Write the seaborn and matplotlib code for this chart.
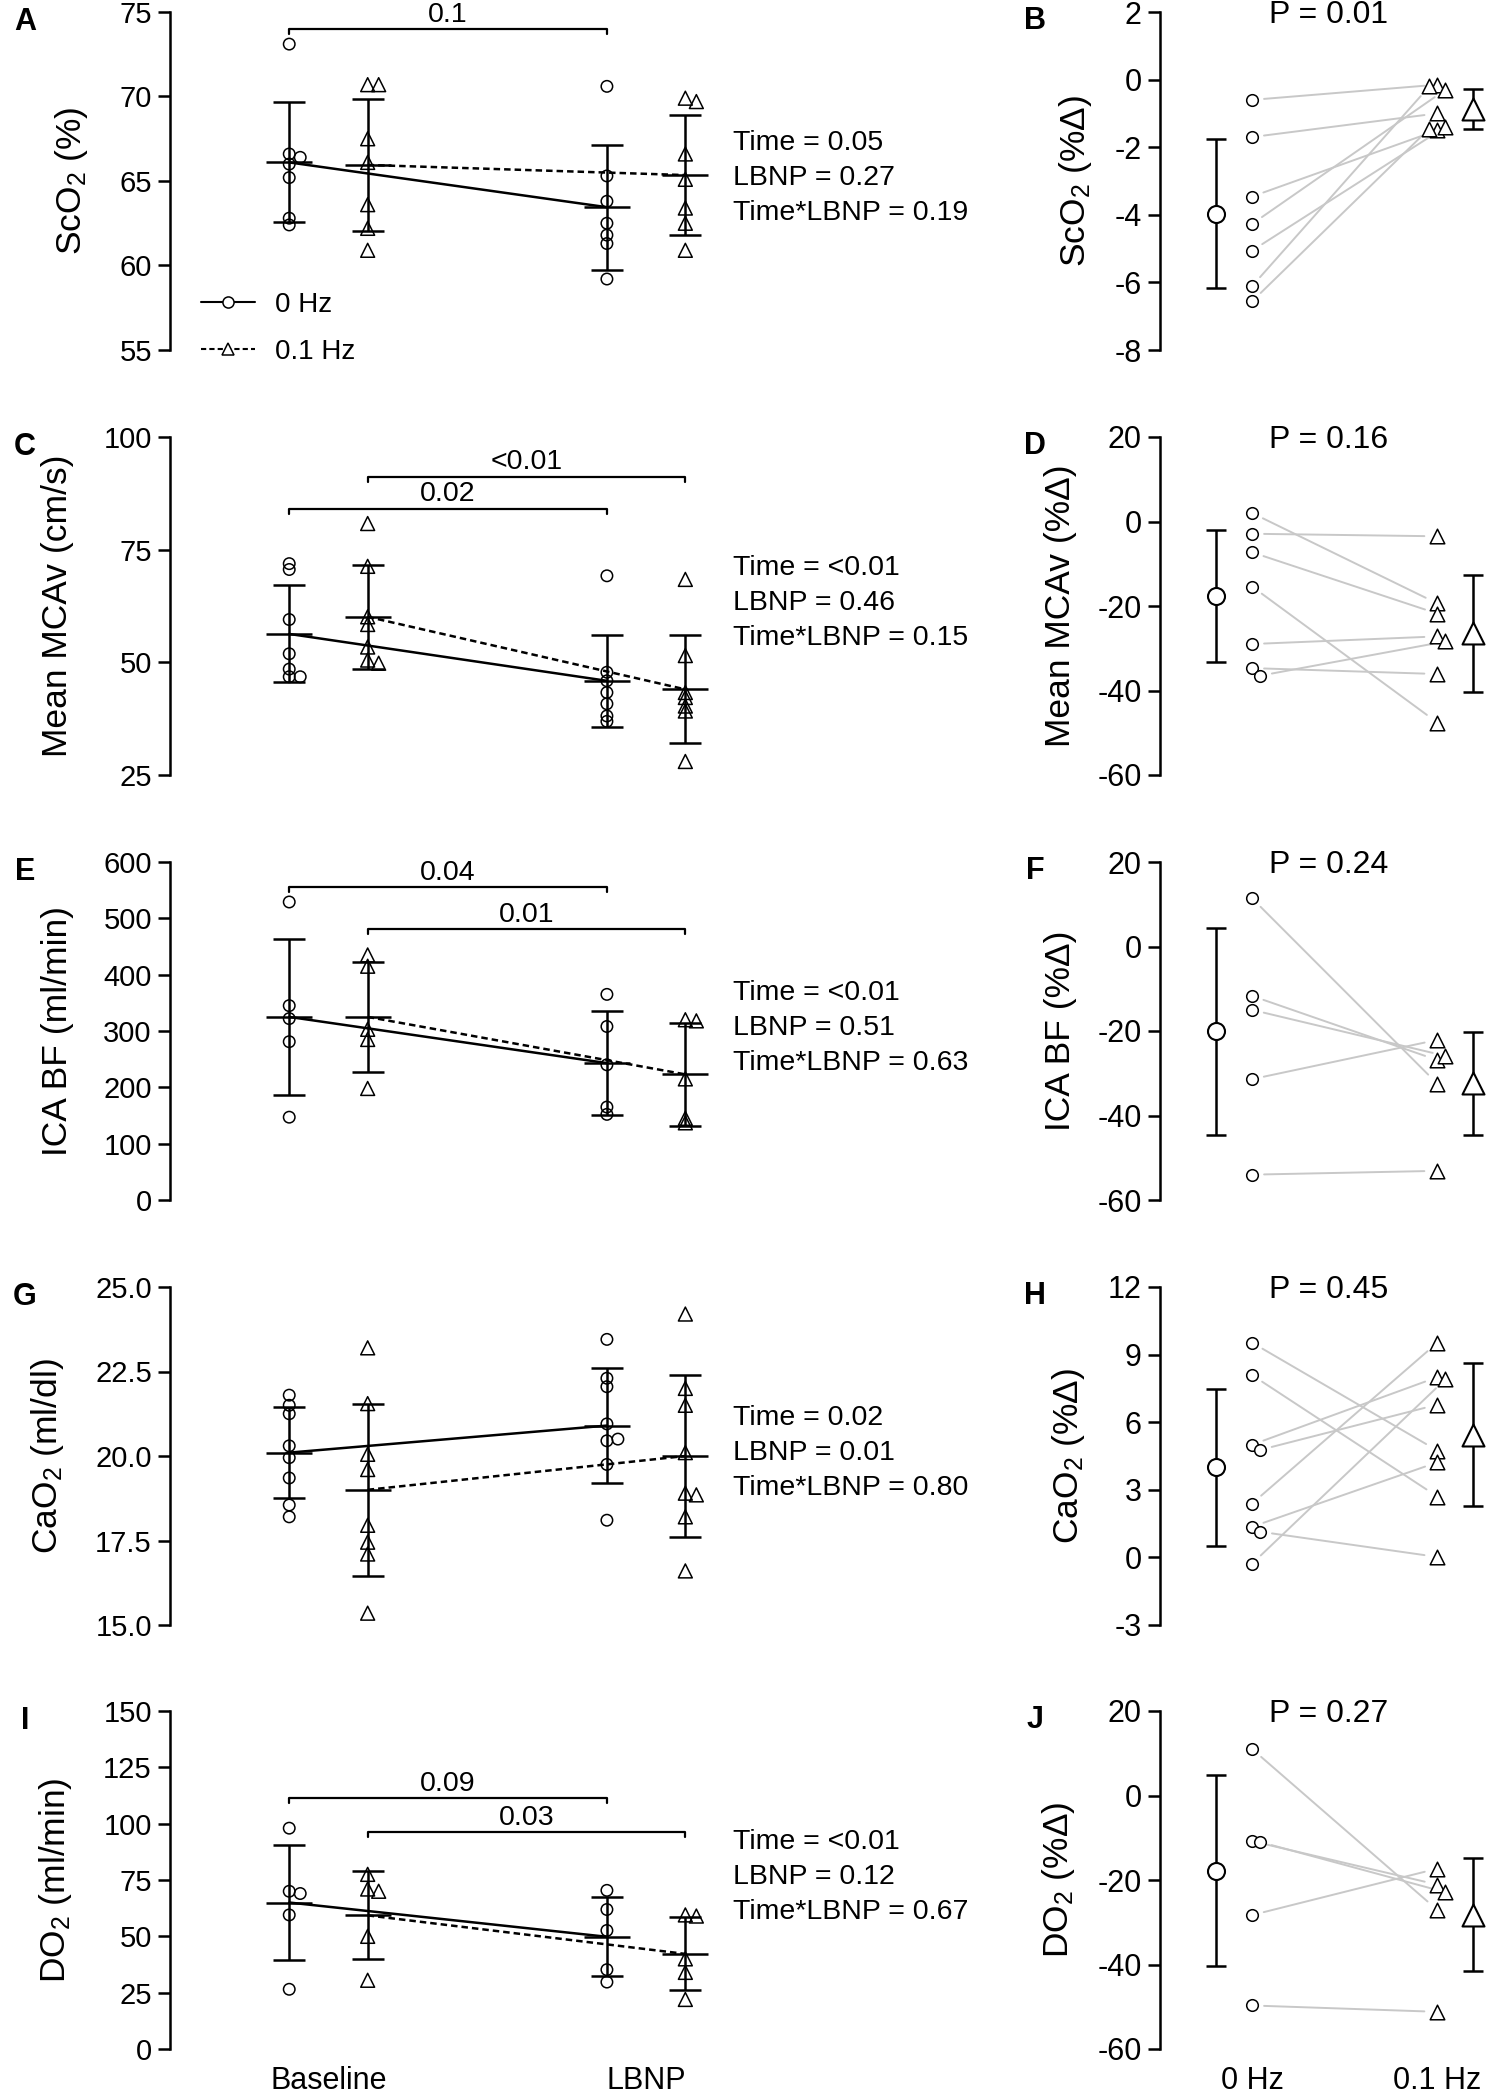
import numpy as np
import pandas as pd
import seaborn as sns
import matplotlib.pyplot as plt
from matplotlib.lines import Line2D

# style
sns.set_theme(style='ticks', rc={
    'axes.edgecolor': 'black', 'axes.labelcolor': 'black', 'text.color': 'black',
    'xtick.color': 'black', 'ytick.color': 'black', 'axes.linewidth': 1.8,
})
plt.rcParams['font.family'] = ['Liberation Sans', 'DejaVu Sans']
plt.rcParams['mathtext.default'] = 'regular'
plt.rcParams['axes.unicode_minus'] = False

# categories
time_labels = ['Baseline', 'LBNP']
freq_labels = ['0 Hz', '0.1 Hz']

# ---- left column (absolute values) ----
# ScO2 (%)
sco2_base_0 = [73.1, 66.6, 66.4, 66.0, 65.2, 62.8, 62.4]
sco2_base_01 = [70.7, 70.7, 67.5, 66.1, 63.6, 62.2, 60.9]
sco2_lbnp_0 = [70.6, 65.3, 63.8, 62.5, 61.8, 61.3, 59.2]
sco2_lbnp_01 = [69.9, 69.7, 66.6, 65.1, 63.4, 62.5, 60.9]
sco2_mean = [66.1, 65.95, 63.45, 65.35]
sco2_sd = [3.55, 3.9, 3.7, 3.57]
sco2_stats = ['Time = 0.05', 'LBNP = 0.27', 'Time*LBNP = 0.19']
sco2_brackets = [(0, 2, 74.0, '0.1')]

# Mean MCAv (cm/s)
mcav_base_0 = [71.9, 70.6, 59.5, 51.9, 48.5, 46.8, 46.8]
mcav_base_01 = [80.8, 71.3, 60.1, 58.4, 53.4, 50.5, 49.8]
mcav_lbnp_0 = [69.2, 47.8, 45.9, 43.3, 40.8, 38.1, 36.9]
mcav_lbnp_01 = [68.4, 51.5, 43.3, 42.2, 40.3, 39.2, 28.0]
mcav_mean = [56.3, 60.1, 45.9, 44.0]
mcav_sd = [10.75, 11.5, 10.2, 12.0]
mcav_stats = ['Time = <0.01', 'LBNP = 0.46', 'Time*LBNP = 0.15']
mcav_brackets = [(0, 2, 84.1, '0.02'), (1, 3, 91.2, '<0.01')]

# ICA BF (ml/min)
icabf_base_0 = [529, 345, 322, 281, 147]
icabf_base_01 = [435, 415, 303, 285, 198]
icabf_lbnp_0 = [365, 308, 240, 165, 152]
icabf_lbnp_01 = [320, 318, 215, 145, 137]
icabf_mean = [325, 325, 243, 223]
icabf_sd = [138, 97, 92, 92]
icabf_stats = ['Time = <0.01', 'LBNP = 0.51', 'Time*LBNP = 0.63']
icabf_brackets = [(0, 2, 555, '0.04'), (1, 3, 481, '0.01')]

# CaO2 (ml/dl)
cao2_base_0 = [21.8, 21.5, 21.25, 20.3, 19.95, 19.35, 18.55, 18.2]
cao2_base_01 = [23.2, 21.55, 20.05, 19.6, 17.95, 17.45, 17.1, 15.35]
cao2_lbnp_0 = [23.45, 22.3, 22.05, 20.95, 20.45, 20.5, 19.75, 18.1]
cao2_lbnp_01 = [24.2, 22.0, 21.5, 20.1, 18.9, 18.85, 18.2, 16.6]
cao2_mean = [20.1, 19.0, 20.9, 20.0]
cao2_sd = [1.35, 2.55, 1.7, 2.41]
cao2_stats = ['Time = 0.02', 'LBNP = 0.01', 'Time*LBNP = 0.80']
cao2_brackets = []

# DO2 (ml/min)
do2_base_0 = [98, 70, 69, 59.5, 26.5]
do2_base_01 = [77.5, 71, 70, 50, 30.5]
do2_lbnp_0 = [70.4, 61.9, 52.6, 35.2, 29.7]
do2_lbnp_01 = [59.5, 59, 40, 34, 22]
do2_mean = [65.0, 59.3, 49.8, 42.2]
do2_sd = [25.7, 19.5, 17.5, 16.2]
do2_stats = ['Time = <0.01', 'LBNP = 0.12', 'Time*LBNP = 0.67']
do2_brackets = [(0, 2, 111.2, '0.09'), (1, 3, 96.3, '0.03')]

# ---- right column (% change, paired by subject) ----
sco2_pct_0hz = [-0.6, -1.7, -3.46, -4.27, -5.06, -6.11, -6.56]
sco2_pct_01hz = [-0.15, -1.0, -1.5, -0.3, -1.4, -0.2, -1.45]
sco2_pct_mean = [-3.97, -0.87]
sco2_pct_sd = [2.2, 0.6]

mcav_pct_0hz = [2.0, -2.9, -7.3, -15.4, -29.0, -34.7, -36.5]
mcav_pct_01hz = [-19.4, -3.5, -21.8, -47.6, -27.2, -36.1, -28.4]
mcav_pct_mean = [-17.6, -26.5]
mcav_pct_sd = [15.7, 13.8]

icabf_pct_0hz = [11.4, -11.7, -15.0, -31.4, -54.0]
icabf_pct_01hz = [-32.5, -26.9, -25.9, -22.1, -53.1]
icabf_pct_mean = [-20.1, -32.4]
icabf_pct_sd = [24.4, 12.25]

cao2_pct_0hz = [9.53, 8.09, 5.0, 4.77, 2.39, 1.36, 1.14, -0.28]
cao2_pct_01hz = [4.74, 2.7, 8.0, 6.78, 9.53, 4.22, 0.02, 7.9]
cao2_pct_mean = [4.0, 5.45]
cao2_pct_sd = [3.48, 3.17]

do2_pct_0hz = [11.0, -10.8, -11.0, -28.3, -49.7]
do2_pct_01hz = [-27.1, -21.1, -22.9, -17.3, -51.2]
do2_pct_mean = [-17.8, -28.2]
do2_pct_sd = [22.6, 13.3]

p_values = ['P = 0.01', 'P = 0.16', 'P = 0.24', 'P = 0.45', 'P = 0.27']

# ---- panel definitions ----
left_panels = [
    dict(tag='A', ylabel='ScO$_2$ (%)', ylim=(55, 75), step=5, fmt='{:.0f}',
         pts=[sco2_base_0, sco2_base_01, sco2_lbnp_0, sco2_lbnp_01],
         mean=sco2_mean, sd=sco2_sd, stats=sco2_stats, brackets=sco2_brackets),
    dict(tag='C', ylabel='Mean MCAv (cm/s)', ylim=(25, 100), step=25, fmt='{:.0f}',
         pts=[mcav_base_0, mcav_base_01, mcav_lbnp_0, mcav_lbnp_01],
         mean=mcav_mean, sd=mcav_sd, stats=mcav_stats, brackets=mcav_brackets),
    dict(tag='E', ylabel='ICA BF (ml/min)', ylim=(0, 600), step=100, fmt='{:.0f}',
         pts=[icabf_base_0, icabf_base_01, icabf_lbnp_0, icabf_lbnp_01],
         mean=icabf_mean, sd=icabf_sd, stats=icabf_stats, brackets=icabf_brackets),
    dict(tag='G', ylabel='CaO$_2$ (ml/dl)', ylim=(15, 25), step=2.5, fmt='{:.1f}',
         pts=[cao2_base_0, cao2_base_01, cao2_lbnp_0, cao2_lbnp_01],
         mean=cao2_mean, sd=cao2_sd, stats=cao2_stats, brackets=cao2_brackets),
    dict(tag='I', ylabel='DO$_2$ (ml/min)', ylim=(0, 150), step=25, fmt='{:.0f}',
         pts=[do2_base_0, do2_base_01, do2_lbnp_0, do2_lbnp_01],
         mean=do2_mean, sd=do2_sd, stats=do2_stats, brackets=do2_brackets),
]
right_panels = [
    dict(tag='B', ylabel='ScO$_2$ (%Δ)', ylim=(-8, 2), step=2, fmt='{:.0f}',
         zero=sco2_pct_0hz, tenth=sco2_pct_01hz, mean=sco2_pct_mean, sd=sco2_pct_sd, p=p_values[0]),
    dict(tag='D', ylabel='Mean MCAv (%Δ)', ylim=(-60, 20), step=20, fmt='{:.0f}',
         zero=mcav_pct_0hz, tenth=mcav_pct_01hz, mean=mcav_pct_mean, sd=mcav_pct_sd, p=p_values[1]),
    dict(tag='F', ylabel='ICA BF (%Δ)', ylim=(-60, 20), step=20, fmt='{:.0f}',
         zero=icabf_pct_0hz, tenth=icabf_pct_01hz, mean=icabf_pct_mean, sd=icabf_pct_sd, p=p_values[2]),
    dict(tag='H', ylabel='CaO$_2$ (%Δ)', ylim=(-3, 12), step=3, fmt='{:.0f}',
         zero=cao2_pct_0hz, tenth=cao2_pct_01hz, mean=cao2_pct_mean, sd=cao2_pct_sd, p=p_values[3]),
    dict(tag='J', ylabel='DO$_2$ (%Δ)', ylim=(-60, 20), step=20, fmt='{:.0f}',
         zero=do2_pct_0hz, tenth=do2_pct_01hz, mean=do2_pct_mean, sd=do2_pct_sd, p=p_values[4]),
]

# ---- layout (pixels of the 1487 x 2100 canvas) ----
W, H = 1487, 2100
ROW_TOPS = [12, 437, 862, 1287, 1711]
ROW_H = 338
LEFT_X0, LEFT_X1 = 170, 723
RIGHT_X0, RIGHT_X1 = 1160, 1487
POS_LEFT = np.array([0, 1, 4.05, 5.05])
LEFT_XLIM = (-1.52, 5.53)
POS_RIGHT = np.array([0, 1, 6.15, 7.15])
RIGHT_XLIM = (-1.56, 7.53)

fig = plt.figure(figsize=(W / 100, H / 100), dpi=100)


def add_ax(x0, x1, top):
    return fig.add_axes([x0 / W, 1 - (top + ROW_H) / H, (x1 - x0) / W, ROW_H / H])


def spread(vals, px_y, px_x, gap_px, thr_px):
    # nudge overlapping points sideways, like Prism does
    placed, offs = [], []
    for v in vals:
        for c in (0, 1, -1, 2, -2, 3, -3):
            if all(pc != c or abs(v - pv) * px_y >= thr_px for pv, pc in placed):
                break
        placed.append((v, c))
        offs.append(c * gap_px / px_x)
    return np.array(offs)


def style_axis(ax, p, xlim, tick_size, labelpad):
    ax.set_xlim(*xlim)
    ax.set_ylim(*p['ylim'])
    ticks = np.arange(p['ylim'][0], p['ylim'][1] + p['step'] / 2, p['step'])
    ax.set_yticks(ticks)
    ax.set_yticklabels([p['fmt'].format(t) for t in ticks])
    ax.tick_params(axis='y', length=8.6, width=1.8, labelsize=tick_size, pad=4.5)
    ax.tick_params(axis='x', length=0)
    sns.despine(ax=ax, bottom=True)
    ax.set_xlabel('')
    ax.set_ylabel(p['ylabel'], fontsize=25.5, labelpad=labelpad)


def draw_left(ax, p):
    y0, y1 = p['ylim']
    px_y = ROW_H / (y1 - y0)
    px_x = (LEFT_X1 - LEFT_X0) / (LEFT_XLIM[1] - LEFT_XLIM[0])
    mean = np.asarray(p['mean'])
    sd = np.asarray(p['sd'])

    # mean-to-mean lines
    for k, ls in ((0, '-'), (1, (0, (2.6, 1.6)))):
        sns.lineplot(x=POS_LEFT[[k, k + 2]], y=mean[[k, k + 2]], color='black', lw=1.8,
                     linestyle=ls, ax=ax, zorder=2)

    # individual subjects
    for k, vals in enumerate(p['pts']):
        vals = np.asarray(vals, dtype=float)
        xo = spread(vals, px_y, px_x, 11, 4)
        sns.scatterplot(x=POS_LEFT[k] + xo, y=vals, marker='o' if k % 2 == 0 else '^',
                        s=68 if k % 2 == 0 else 100, color='none', edgecolor='black',
                        linewidth=1.1, ax=ax, zorder=3, legend=False, clip_on=False)

    # mean and SD
    ax.errorbar(POS_LEFT, mean, yerr=sd, fmt='none', ecolor='black', elinewidth=1.8,
                capsize=11.5, capthick=1.8, zorder=4)
    ax.plot(POS_LEFT, mean, ls='none', marker='_', ms=33, mew=1.8, color='black', zorder=4)

    # post-hoc brackets
    d = 5 / px_y
    for i, j, yb, txt in p['brackets']:
        ax.plot([POS_LEFT[i], POS_LEFT[i], POS_LEFT[j], POS_LEFT[j]], [yb - d, yb, yb, yb - d],
                color='black', lw=1.6, clip_on=False)
        ax.annotate(txt, xy=((POS_LEFT[i] + POS_LEFT[j]) / 2, yb), xytext=(0, 1),
                    textcoords='offset points', ha='center', va='bottom', fontsize=20.5,
                    annotation_clip=False)

    # ANOVA results
    for n, s in enumerate(p['stats']):
        ax.text(1.018, 0.508 + 0.103 * (1 - n), s, transform=ax.transAxes, ha='left',
                va='center', fontsize=20.5)

    style_axis(ax, p, LEFT_XLIM, 21, 21)


def draw_right(ax, p):
    y0, y1 = p['ylim']
    px_y = ROW_H / (y1 - y0)
    px_x = (RIGHT_X1 - RIGHT_X0) / (RIGHT_XLIM[1] - RIGHT_XLIM[0])
    zero = np.asarray(p['zero'], dtype=float)
    tenth = np.asarray(p['tenth'], dtype=float)
    x0 = POS_RIGHT[1] + spread(zero, px_y, px_x, 8, 9)
    x1 = POS_RIGHT[2] + spread(tenth, px_y, px_x, 8, 9)

    # subject lines, stopped a little short of each marker
    rows = []
    for s, (xa, ya, xb, yb) in enumerate(zip(x0, zero, x1, tenth)):
        length = np.hypot((xb - xa) * px_x, (yb - ya) * px_y)
        ta, tb = 12 / length, 13 / length
        rows.append((s, xa + ta * (xb - xa), ya + ta * (yb - ya)))
        rows.append((s, xb - tb * (xb - xa), yb - tb * (yb - ya)))
    df = pd.DataFrame(rows, columns=['subject', 'x', 'y'])
    sns.lineplot(data=df, x='x', y='y', units='subject', estimator=None, color='#c8c8c8',
                 lw=1.4, ax=ax, zorder=1)

    sns.scatterplot(x=x0, y=zero, marker='o', s=70, color='white', edgecolor='black',
                    linewidth=1.1, ax=ax, zorder=3, legend=False)
    sns.scatterplot(x=x1, y=tenth, marker='^', s=110, color='white', edgecolor='black',
                    linewidth=1.1, ax=ax, zorder=3, legend=False)

    # group mean and SD
    ax.errorbar(POS_RIGHT[[0, 3]], p['mean'], yerr=p['sd'], fmt='none', ecolor='black',
                elinewidth=1.8, capsize=7.2, capthick=1.8, zorder=4)
    sns.scatterplot(x=[POS_RIGHT[0]], y=[p['mean'][0]], marker='o', s=150, color='white',
                    edgecolor='black', linewidth=1.5, ax=ax, zorder=5, legend=False)
    sns.scatterplot(x=[POS_RIGHT[3]], y=[p['mean'][1]], marker='^', s=250, color='white',
                    edgecolor='black', linewidth=1.5, ax=ax, zorder=5, legend=False,
                    clip_on=False)

    ax.annotate(p['p'], xy=(0.517, 1.0), xycoords='axes fraction', xytext=(0, -8),
                textcoords='offset points', ha='center', va='baseline', fontsize=23,
                annotation_clip=False)
    style_axis(ax, p, RIGHT_XLIM, 22, 15)


for r in range(5):
    top = ROW_TOPS[r]
    axl = add_ax(LEFT_X0, LEFT_X1, top)
    draw_left(axl, left_panels[r])
    axr = add_ax(RIGHT_X0, RIGHT_X1, top)
    draw_right(axr, right_panels[r])

    fig.text(25 / W, 1 - (top + 10) / H, left_panels[r]['tag'], fontsize=22, weight='bold',
             ha='center', va='center')
    fig.text(1035 / W, 1 - (top + 9) / H, right_panels[r]['tag'], fontsize=22, weight='bold',
             ha='center', va='center')

    if r == 4:
        axl.set_xticks([0.5, 4.55])
        axl.set_xticklabels(time_labels, fontsize=22)
        axr.set_xticks([POS_RIGHT[1], POS_RIGHT[2]])
        axr.set_xticklabels(freq_labels, fontsize=22)
        axl.tick_params(axis='x', pad=12)
        axr.tick_params(axis='x', pad=12)
    else:
        axl.set_xticks([])
        axr.set_xticks([])

    if r == 0:
        handles = [
            Line2D([], [], color='black', lw=1.5, ls='-', marker='o', ms=8,
                   mfc='white', mec='black', mew=1.1),
            Line2D([], [], color='black', lw=1.5, ls=(0, (2.5, 1.5)), marker='^', ms=9,
                   mfc='white', mec='black', mew=1.1),
        ]
        axl.legend(handles, freq_labels, loc='upper left', bbox_to_anchor=(0.056, 0.172),
                   frameon=False, fontsize=20, handlelength=1.95, handletextpad=0.7,
                   labelspacing=0.75, borderpad=0, borderaxespad=0)

fig.savefig('out.png', dpi=100)
